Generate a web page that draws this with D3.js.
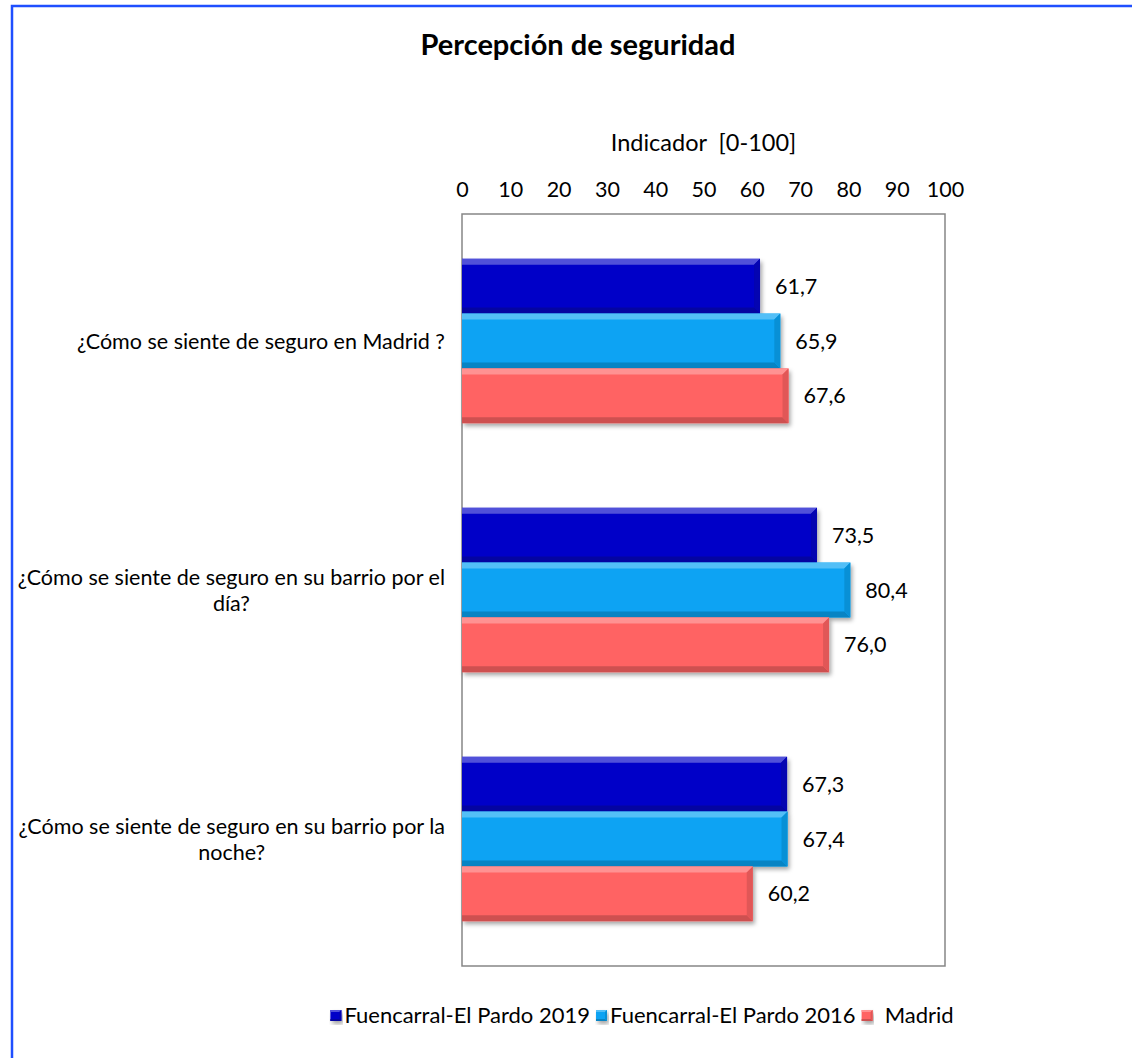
<!DOCTYPE html>
<html>
  <head>
    <meta charset="utf-8">
    <script src="https://d3js.org/d3.v7.min.js"></script>
    <title>Percepción de seguridad</title>
    <style>
    body {
      margin: 0;
      background-color: #fff;
    }
    svg {
      display: block;
      font-family: Lato, "Open Sans", sans-serif;
    }
    </style>
  </head>
  <body>
    <script type="text/javascript">
      // data
      let categories = [
        ['¿Cómo se siente de seguro en Madrid ?'],
        ['¿Cómo se siente de seguro en su barrio por el', 'día?'],
        ['¿Cómo se siente de seguro en su barrio por la', 'noche?']
      ]
      let seriesNames = ['Fuencarral-El Pardo 2019', 'Fuencarral-El Pardo 2016', 'Madrid']
      let fuencarral2019 = [61.7, 73.5, 67.3]
      let fuencarral2016 = [65.9, 80.4, 67.4]
      let madrid = [67.6, 76.0, 60.2]
      let tickValues = [0, 10, 20, 30, 40, 50, 60, 70, 80, 90, 100]
      let colors = ['#0505c8', '#09a3f3', '#ff6363']

      let w = 1132
      let h = 1058
      let plot = {left: 462, right: 945, top: 214, bottom: 966}
      let series = [fuencarral2019, fuencarral2016, madrid]

      let svg = d3.select('body')
                  .append('svg')
                  .attr('width', w)
                  .attr('height', h)

      let defs = svg.append('defs')
      defs.append('filter')
          .attr('id', 'shadow')
          .attr('x', '-5%').attr('y', '-10%')
          .attr('width', '115%').attr('height', '140%')
        .append('feDropShadow')
          .attr('dx', 2).attr('dy', 3)
          .attr('stdDeviation', 2)
          .attr('flood-color', '#000')
          .attr('flood-opacity', 0.35)

      // outer frame (runs off the right and bottom edge)
      svg.append('rect')
         .attr('x', 12).attr('y', 6)
         .attr('width', 1300).attr('height', 1300)
         .attr('fill', '#fff')
         .attr('stroke', '#1f4fff')
         .attr('stroke-width', 2.5)

      let xScale = d3.scaleLinear()
                     .domain([0, 100])
                     .range([plot.left, plot.right])

      let yScale = d3.scaleBand()
                     .domain(d3.range(categories.length))
                     .range([plot.top, plot.bottom])
                     .paddingInner(0.34)
                     .paddingOuter(0.18)

      let sub = d3.scaleBand()
                  .domain(d3.range(series.length))
                  .range([0, yScale.bandwidth()])

      // title
      svg.append('text')
         .attr('x', 578).attr('y', 55)
         .attr('text-anchor', 'middle')
         .style('font-size', '29px')
         .style('font-weight', 'bold')
         .text('Percepción de seguridad')

      svg.append('text')
         .attr('x', (plot.left + plot.right) / 2).attr('y', 151)
         .attr('text-anchor', 'middle')
         .style('font-size', '23.5px')
         .style('white-space', 'pre')
         .text('Indicador  [0-100]')

      // plot box
      svg.append('rect')
         .attr('x', plot.left).attr('y', plot.top)
         .attr('width', plot.right - plot.left)
         .attr('height', plot.bottom - plot.top)
         .attr('fill', 'none')
         .attr('stroke', '#868686')
         .attr('stroke-width', 1.5)

      // top axis, labels only
      let axis = svg.append('g')
                    .attr('transform', `translate(0, ${plot.top - 17})`)
                    .call(d3.axisTop(xScale).tickValues(tickValues).tickSize(0).tickPadding(0))
      axis.select('.domain').remove()
      axis.selectAll('text')
          .style('font-family', 'Lato, sans-serif')
          .style('font-size', '21.5px')
          .attr('fill', '#000')

      // bevel helper
      function bevelBar(g, x0, x1, y0, y1, color, b) {
        let c = d3.color(color)
        g.append('rect')
         .attr('x', x0).attr('y', y0)
         .attr('width', x1 - x0).attr('height', y1 - y0)
         .attr('fill', color)
         .attr('filter', 'url(#shadow)')
        g.append('polygon')
         .attr('points', [[x0, y0], [x1, y0], [x1 - b, y0 + b], [x0, y0 + b]].join(' '))
         .attr('fill', d3.interpolateRgb(color, '#fff')(0.3))
        g.append('polygon')
         .attr('points', [[x0, y1], [x1, y1], [x1 - b, y1 - b], [x0, y1 - b]].join(' '))
         .attr('fill', c.darker(0.6))
        g.append('polygon')
         .attr('points', [[x1, y0], [x1, y1], [x1 - b, y1 - b], [x1 - b, y0 + b]].join(' '))
         .attr('fill', c.darker(0.35))
      }

      // bars
      series.forEach((values, s) => {
        values.forEach((v, i) => {
          let y0 = yScale(i) + sub(s)
          let y1 = y0 + sub.bandwidth()
          let g = svg.append('g').attr('class', 'bar')
          bevelBar(g, xScale(0), xScale(v), y0, y1, colors[s], 6)
          svg.append('text')
             .attr('x', xScale(v) + 15)
             .attr('y', (y0 + y1) / 2)
             .attr('dy', '0.35em')
             .style('font-size', '21.5px')
             .text(d3.format('.1f')(v).replace('.', ','))
        })
      })

      // category labels: block right-aligned, lines centred inside it
      categories.forEach((lines, i) => {
        let cy = yScale(i) + yScale.bandwidth() / 2
        let t = svg.append('text')
                   .style('font-size', '21.5px')
                   .attr('text-anchor', 'middle')
        let lh = 26
        lines.forEach((line, k) => {
          t.append('tspan')
           .attr('y', cy + (k - (lines.length - 1) / 2) * lh)
           .attr('dy', '0.35em')
           .text(line)
        })
        let maxW = d3.max(t.selectAll('tspan').nodes(), n => n.getComputedTextLength())
        t.selectAll('tspan').attr('x', 445 - maxW / 2)
      })

      // legend, centred under the chart
      let legend = svg.append('g')
      let lx = 0
      seriesNames.forEach((name, s) => {
        let g = legend.append('g')
        bevelBar(g, lx, lx + 11, 1010, 1021, colors[s], 2)
        let tx = lx + 14 + (s === 2 ? 9 : 0)
        let t = g.append('text')
                 .attr('x', tx)
                 .attr('y', 1015.5)
                 .attr('dy', '0.35em')
                 .style('font-size', '22px')
                 .text(name)
        lx = tx + t.node().getComputedTextLength() + 6
      })
      legend.attr('transform', `translate(${642 - (lx - 6) / 2}, 0)`)
    </script>
  </body>
</html>
